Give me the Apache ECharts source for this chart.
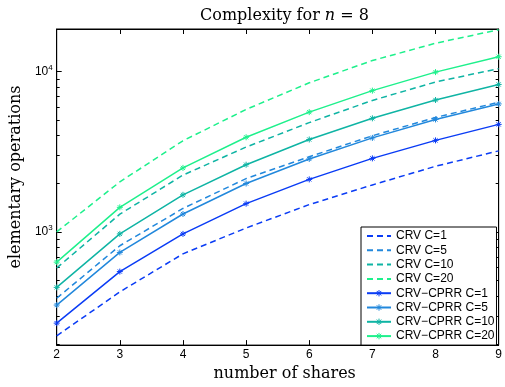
<!DOCTYPE html>
<html>
<head>
<meta charset="utf-8">
<script src="https://cdn.jsdelivr.net/npm/echarts@6/dist/echarts.min.js"></script>
<style>
  html, body { margin: 0; padding: 0; background: #fff; }
  #main { width: 505px; height: 387px; }
</style>
</head>
<body>
<div id="main"></div>
<script>
// number of shares
var shares = [2, 3, 4, 5, 6, 7, 8, 9];

// CRV (dashed)
var crvC1 = [225, 423, 730, 1058, 1480, 1963, 2565, 3200];
var crvC5 = [386, 820, 1400, 2150, 2940, 3975, 5170, 6430];
var crvC10 = [596, 1290, 2260, 3380, 4800, 6600, 8600, 10420];
var crvC20 = [1000, 2050, 3700, 5800, 8500, 11700, 15000, 18200];

// CRV-CPRR (solid with markers)
var cprrC1 = [270, 566, 972, 1500, 2125, 2873, 3720, 4680];
var cprrC5 = [350, 745, 1293, 2003, 2850, 3855, 5025, 6280];
var cprrC10 = [451, 972, 1703, 2624, 3768, 5105, 6640, 8300];
var cprrC20 = [648, 1423, 2506, 3890, 5582, 7595, 9910, 12360];

var majorTicks = [1000, 10000];
var minorTicks = [200, 300, 400, 500, 600, 700, 800, 900,
  2000, 3000, 4000, 5000, 6000, 7000, 8000, 9000];

var colors = ['#0a3cf5', '#2288dc', '#0fb4a4', '#1ef08c'];
var sans = 'Liberation Sans, Arial, sans-serif';
var serif = 'DejaVu Serif, serif';
var star = 'path://M5,0L5,10M0,5L10,5M1.5,1.5L8.5,8.5M1.5,8.5L8.5,1.5';

function pairs(vals) {
  var out = [];
  for (var i = 0; i < shares.length; i++) {
    out.push([shares[i], vals[i]]);
  }
  return out;
}

function crvSeries(name, vals, color) {
  return {
    name: name,
    type: 'line',
    data: pairs(vals),
    symbol: 'none',
    lineStyle: { color: color, width: 1.5, type: [6, 4] },
    // no marker, so hide the legend dot too
    itemStyle: { color: color, opacity: 0 },
    silent: true
  };
}

function cprrSeries(name, vals, color) {
  return {
    name: name,
    type: 'line',
    data: pairs(vals),
    symbol: star,
    symbolSize: 6,
    showAllSymbol: true,
    lineStyle: { color: color, width: 1.5 },
    itemStyle: { color: color, borderColor: color, borderWidth: 1 },
    silent: true
  };
}

function yLabel(val) {
  if (val === 1000) return '{b|10}{s|3}';
  if (val === 10000) return '{b|10}{s|4}';
  return '';
}

var chart = echarts.init(document.getElementById('main'), null, { renderer: 'canvas' });

var option = {
  backgroundColor: '#fff',
  animation: false,
  title: {
    text: 'Complexity for {i|n} = 8',
    left: 195,
    top: 3,
    textStyle: {
      fontFamily: serif,
      fontSize: 16,
      fontWeight: 'normal',
      color: '#000',
      rich: {
        i: { fontFamily: serif, fontSize: 16, fontStyle: 'italic', color: '#000' }
      }
    }
  },
  grid: {
    left: 53, top: 29, right: 5, bottom: 37,
    show: true,
    borderColor: '#000',
    borderWidth: 1,
    backgroundColor: '#fff'
  },
  legend: {
    orient: 'vertical',
    left: 361,
    top: 227,
    padding: [3, 2, 3, 5],
    itemWidth: 24,
    itemHeight: 8,
    itemGap: 2.3,
    borderColor: '#000',
    borderWidth: 1,
    borderRadius: 0,
    backgroundColor: '#fff',
    itemStyle: { borderWidth: 1 },
    textStyle: { fontFamily: sans, fontSize: 12, color: '#000' },
    data: ['CRV C=1', 'CRV C=5', 'CRV C=10', 'CRV C=20',
      'CRV\u2212CPRR C=1', 'CRV\u2212CPRR C=5', 'CRV\u2212CPRR C=10', 'CRV\u2212CPRR C=20']
  },
  xAxis: [{
    type: 'value',
    min: 2, max: 9, interval: 1,
    position: 'bottom',
    name: 'number of shares',
    nameLocation: 'middle',
    nameGap: 18,
    nameTextStyle: { fontFamily: serif, fontSize: 16, color: '#000', padding: [0, 0, 0, 14] },
    axisLine: { show: true, lineStyle: { color: '#000', width: 1 } },
    axisTick: { inside: true, length: 5, lineStyle: { color: '#000' } },
    axisLabel: { fontFamily: sans, fontSize: 12, color: '#000', margin: 4 },
    splitLine: { show: false }
  }, {
    type: 'value',
    min: 2, max: 9, interval: 1,
    position: 'top',
    axisLine: { show: true, lineStyle: { color: '#000', width: 1 } },
    axisTick: { inside: true, length: 5, lineStyle: { color: '#000' } },
    axisLabel: { show: false },
    splitLine: { show: false }
  }],
  yAxis: [{
    type: 'log',
    min: 197, max: 18400,
    position: 'left',
    name: 'elementary operations',
    nameLocation: 'middle',
    nameGap: 24,
    nameTextStyle: { fontFamily: serif, fontSize: 16, color: '#000', padding: [0, 0, 0, 20] },
    axisLine: { show: true, lineStyle: { color: '#000', width: 1 } },
    axisTick: { inside: true, length: 5, customValues: majorTicks, lineStyle: { color: '#000' } },
    axisLabel: {
      customValues: majorTicks,
      formatter: yLabel,
      margin: 4,
      color: '#000',
      rich: {
        b: { fontFamily: sans, fontSize: 12, color: '#000' },
        s: { fontFamily: sans, fontSize: 8, color: '#000', padding: [0, 0, 8, 0] }
      }
    },
    splitLine: { show: false }
  }, {
    type: 'log',
    min: 197, max: 18400,
    position: 'left',
    axisLine: { show: false },
    axisTick: { inside: true, length: 3, customValues: minorTicks, lineStyle: { color: '#000' } },
    axisLabel: { show: false },
    splitLine: { show: false }
  }, {
    type: 'log',
    min: 197, max: 18400,
    position: 'right',
    axisLine: { show: true, lineStyle: { color: '#000', width: 1 } },
    axisTick: { inside: true, length: 5, customValues: majorTicks, lineStyle: { color: '#000' } },
    axisLabel: { show: false },
    splitLine: { show: false }
  }, {
    type: 'log',
    min: 197, max: 18400,
    position: 'right',
    axisLine: { show: false },
    axisTick: { inside: true, length: 3, customValues: minorTicks, lineStyle: { color: '#000' } },
    axisLabel: { show: false },
    splitLine: { show: false }
  }],
  series: [
    crvSeries('CRV C=1', crvC1, colors[0]),
    crvSeries('CRV C=5', crvC5, colors[1]),
    crvSeries('CRV C=10', crvC10, colors[2]),
    crvSeries('CRV C=20', crvC20, colors[3]),
    cprrSeries('CRV\u2212CPRR C=1', cprrC1, colors[0]),
    cprrSeries('CRV\u2212CPRR C=5', cprrC5, colors[1]),
    cprrSeries('CRV\u2212CPRR C=10', cprrC10, colors[2]),
    cprrSeries('CRV\u2212CPRR C=20', cprrC20, colors[3])
  ]
};

chart.setOption(option);
</script>
</body>
</html>
